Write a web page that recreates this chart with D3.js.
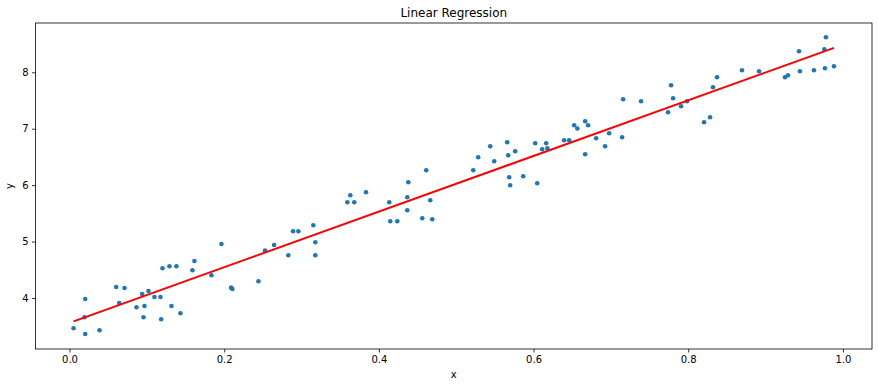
<html>
<head>
  <script src="https://d3js.org/d3.v7.min.js"></script>
  <style>
    body { margin: 0; background: #fff; }
    text { font-family: "DejaVu Sans", sans-serif; fill: #000; }
  </style>
</head>
<body>
<svg></svg>
<script>

// scattered samples
const xs = [0.0052, 0.0203, 0.0388, 0.0203, 0.0194, 0.0603, 0.0711, 0.0642, 0.0866, 0.0969,
  0.0956, 0.0939, 0.1021, 0.1098, 0.1176, 0.1185, 0.1318, 0.1434, 0.1202, 0.1292,
  0.1382, 0.1589, 0.1615, 0.1835, 0.1964, 0.2089, 0.2106, 0.2442, 0.2528, 0.2645,
  0.2829, 0.2890, 0.2959, 0.3152, 0.3178, 0.3178, 0.3592, 0.3630, 0.3682, 0.3833,
  0.4134, 0.4147, 0.4238, 0.4367, 0.4380, 0.4367, 0.4612, 0.4664, 0.4561, 0.4690,
  0.5220, 0.5284, 0.5439, 0.5491, 0.5659, 0.5672, 0.5762, 0.5685, 0.5698, 0.5866,
  0.6047, 0.6021, 0.6163, 0.6111, 0.6178, 0.6395, 0.6460, 0.6525, 0.6566, 0.6667,
  0.6705, 0.6667, 0.6809, 0.6925, 0.6977, 0.7145, 0.7158, 0.7390, 0.7739, 0.7778,
  0.7804, 0.7907, 0.7984, 0.8204, 0.8282, 0.8320, 0.8372, 0.8695, 0.8915, 0.9251,
  0.9289, 0.9432, 0.9444, 0.9625, 0.9767, 0.9780, 0.9760, 0.9884];
const ys = [3.463, 3.362, 3.427, 3.982, 3.658, 4.195, 4.177, 3.911, 3.835, 3.858,
  3.658, 4.071, 4.124, 4.018, 4.018, 3.622, 3.858, 3.729, 4.527, 4.562,
  4.562, 4.491, 4.656, 4.402, 4.957, 4.183, 4.160, 4.296, 4.839, 4.940,
  4.757, 5.183, 5.183, 5.289, 4.988, 4.757, 5.697, 5.821, 5.697, 5.874,
  5.697, 5.360, 5.360, 5.785, 6.051, 5.555, 6.264, 5.732, 5.413, 5.395,
  6.264, 6.495, 6.690, 6.424, 6.761, 6.530, 6.601, 6.140, 5.998, 6.158,
  6.034, 6.743, 6.743, 6.637, 6.654, 6.796, 6.796, 7.062, 7.005, 7.133,
  7.062, 6.548, 6.832, 6.690, 6.920, 6.849, 7.523, 7.488, 7.293, 7.771,
  7.541, 7.399, 7.488, 7.115, 7.204, 7.736, 7.913, 8.037, 8.020, 7.913,
  7.949, 8.374, 8.020, 8.037, 8.073, 8.622, 8.406, 8.108];

// fitted line
const intercept = 3.56;
const slope = 4.93;

const xTicks = [0.0, 0.2, 0.4, 0.6, 0.8, 1.0];
const yTicks = [4, 5, 6, 7, 8];

const W = 878, H = 387;
const margin = {top: 23, right: 6, bottom: 38, left: 35.5};

const svg = d3.select("svg").attr("width", W).attr("height", H);

const x = d3.scaleLinear().domain([-0.0440, 1.0376]).range([margin.left, W - margin.right]);
const y = d3.scaleLinear().domain([3.096, 8.874]).range([H - margin.bottom, margin.top]);

const pts = xs.map((v, i) => ({x: v, y: ys[i]}));

svg.append("g")
  .selectAll("circle")
  .data(pts)
  .join("circle")
  .attr("cx", d => x(d.x))
  .attr("cy", d => y(d.y))
  .attr("r", 2.3)
  .attr("fill", "#1f77b4");

const xmin = d3.min(xs), xmax = d3.max(xs);
svg.append("path")
  .datum([xmin, xmax])
  .attr("fill", "none")
  .attr("stroke", "red")
  .attr("stroke-width", 2)
  .attr("d", d3.line().x(d => x(d)).y(d => y(intercept + slope * d)));

// frame
svg.append("rect")
  .attr("x", margin.left)
  .attr("y", margin.top)
  .attr("width", W - margin.right - margin.left)
  .attr("height", H - margin.bottom - margin.top)
  .attr("fill", "none")
  .attr("stroke", "#000")
  .attr("stroke-width", 0.8);

const xAxis = svg.append("g")
  .attr("transform", "translate(0," + (H - margin.bottom) + ")")
  .call(d3.axisBottom(x).tickValues(xTicks).tickFormat(d3.format(".1f")).tickSize(3.5).tickPadding(3.5));
const yAxis = svg.append("g")
  .attr("transform", "translate(" + margin.left + ",0)")
  .call(d3.axisLeft(y).tickValues(yTicks).tickFormat(d3.format("d")).tickSize(3.5).tickPadding(3.5));

[xAxis, yAxis].forEach(g => {
  g.select(".domain").remove();
  g.selectAll("line").attr("stroke", "#000").attr("stroke-width", 0.8);
  g.selectAll("text").attr("font-size", 10).attr("font-family", "DejaVu Sans").attr("fill", "#000");
});

svg.append("text")
  .attr("x", (margin.left + W - margin.right) / 2)
  .attr("y", 17)
  .attr("text-anchor", "middle")
  .attr("font-size", 12)
  .text("Linear Regression");

svg.append("text")
  .attr("x", (margin.left + W - margin.right) / 2)
  .attr("y", 378)
  .attr("text-anchor", "middle")
  .attr("font-size", 10)
  .text("x");

svg.append("text")
  .attr("transform", "translate(13," + ((margin.top + H - margin.bottom) / 2) + ") rotate(-90)")
  .attr("text-anchor", "middle")
  .attr("font-size", 10)
  .text("y");

</script>
</body>
</html>
